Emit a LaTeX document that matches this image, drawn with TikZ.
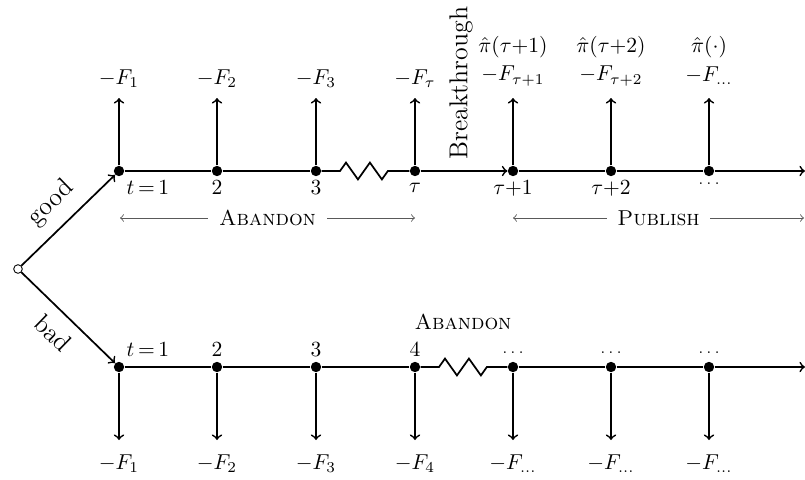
\documentclass[tikz,border=0pt]{standalone}
\usetikzlibrary{decorations.pathmorphing}
\begin{document}
\begin{tikzpicture}[x=0.0163cm,y=-0.0163cm,
  dot/.style={circle,fill,inner sep=0pt,minimum size=4.8pt},
  line/.style={thick},
  arr/.style={thick,->},
  span/.style={<->,gray!70!black,thin},
  zz/.style={decoration={zigzag,segment length=11.1pt,amplitude=3.9pt}},
  lbl/.style={inner sep=0pt}]
\useasboundingbox (0,0) rectangle (805,479);
\node[circle,draw,inner sep=0pt,minimum size=4pt,thin] (o) at (18,269) {};
\foreach \i/\x in {1/119,2/217,3/316,4/415,5/513,6/611,7/709}{
  \node[dot] (t\i) at (\x,171) {};
  \node[dot] (b\i) at (\x,367) {};
}
\coordinate (tend) at (805,171);
\coordinate (bend) at (805,367);
% branches
\draw[arr] (o) -- node[above=2pt,sloped]{\large good} (t1);
\draw[arr] (o) -- node[below=2pt,sloped]{\large bad} (b1);
% top timeline
\draw[line] (t1) -- (t2) -- (t3);
\draw[line] (t3) -- (340,171) decorate[zz]{-- (388,171)} -- (t4);
\draw[arr] (t4) -- (t5);
\draw[line] (t5) -- (t6) -- (t7);
\draw[arr] (t7) -- (tend);
% bottom timeline
\draw[line] (b1) -- (b2) -- (b3) -- (b4);
\draw[line] (b4) -- (439,367) decorate[zz]{-- (487,367)} -- (b5);
\draw[line] (b5) -- (b6) -- (b7);
\draw[arr] (b7) -- (bend);
% vertical arrows
\foreach \i/\x in {1/119,2/217,3/316,4/415,5/513,6/611,7/709}{
  \coordinate (tu\i) at (\x,98);
  \coordinate (bd\i) at (\x,440);
  \draw[arr] (t\i) -- (tu\i);
  \draw[arr] (b\i) -- (bd\i);
}
% top cost labels
\node[lbl] (ft1) at (119,79) {$-F_1$};
\node[lbl] (ft2) at (217,79) {$-F_2$};
\node[lbl] (ft3) at (316,79) {$-F_3$};
\node[lbl] (ft4) at (415,79) {$-F_\tau$};
\node[lbl] (ft5) at (513,76) {$-F_{\tau{+}1}$};
\node[lbl] (ft6) at (611,76) {$-F_{\tau{+}2}$};
\node[lbl] (ft7) at (709,76) {$-F_{\ldots}$};
\node[lbl] (pt5) at (513,47) {$\hat{\pi}(\tau{+}1)$};
\node[lbl] (pt6) at (611,47) {$\hat{\pi}(\tau{+}2)$};
\node[lbl] (pt7) at (709,47) {$\hat{\pi}(\cdot)$};
% breakthrough
\node[lbl,rotate=90] (brk) at (461,83) {\large Breakthrough};
% top time labels
\node[lbl] (lt1) at (148,188) {$t\,{=}\,1$};
\node[lbl] (lt2) at (217,188) {$2$};
\node[lbl] (lt3) at (316,188) {$3$};
\node[lbl] (lt4) at (415,188) {$\tau$};
\node[lbl] (lt5) at (513,188) {$\tau{+}1$};
\node[lbl] (lt6) at (611,188) {$\tau{+}2$};
\node[lbl] (lt7) at (709,184) {\scriptsize$\ldots$};
% spans
\coordinate (a1) at (120,218);
\coordinate (a2) at (415,218);
\coordinate (p1) at (513,218);
\coordinate (p2) at (804,218);
\draw[span] (a1) -- node[fill=white,inner sep=5pt,text=black]{\textsc{Abandon}} (a2);
\draw[span] (p1) -- node[fill=white,inner sep=5pt,text=black]{\textsc{Publish}} (p2);
% bottom labels
\node[lbl] (lb1) at (148,350) {$t\,{=}\,1$};
\node[lbl] (lb2) at (217,350) {$2$};
\node[lbl] (lb3) at (316,350) {$3$};
\node[lbl] (lb4) at (415,350) {$4$};
\node[lbl] (lb5) at (513,353) {\scriptsize$\ldots$};
\node[lbl] (lb6) at (611,353) {\scriptsize$\ldots$};
\node[lbl] (lb7) at (709,353) {\scriptsize$\ldots$};
\node[lbl] (ab) at (463,322) {\textsc{Abandon}};
\node[lbl] (fb1) at (119,464) {$-F_1$};
\node[lbl] (fb2) at (217,464) {$-F_2$};
\node[lbl] (fb3) at (316,464) {$-F_3$};
\node[lbl] (fb4) at (415,464) {$-F_4$};
\node[lbl] (fb5) at (513,464) {$-F_{\ldots}$};
\node[lbl] (fb6) at (611,464) {$-F_{\ldots}$};
\node[lbl] (fb7) at (709,464) {$-F_{\ldots}$};
\end{tikzpicture}
\end{document}
